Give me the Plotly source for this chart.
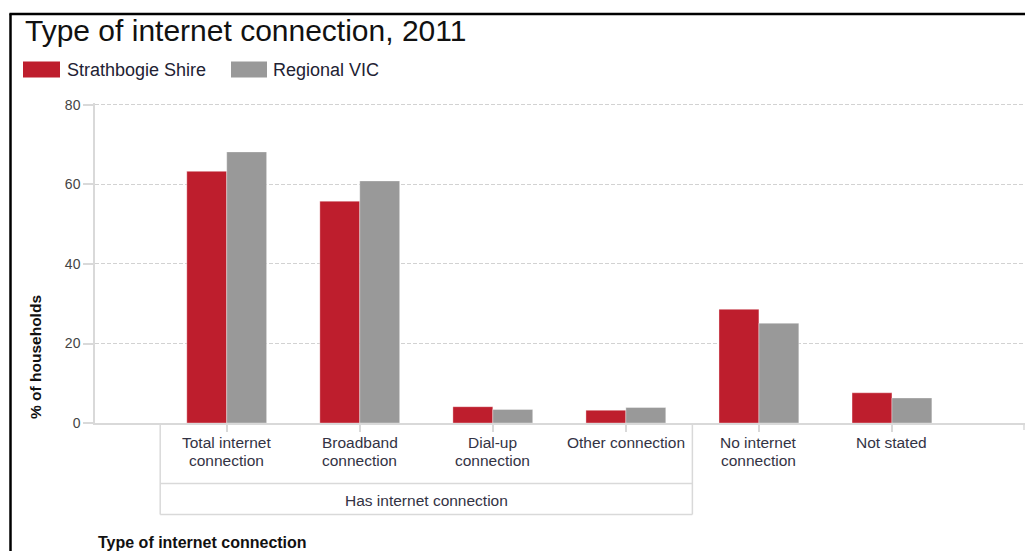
import plotly.graph_objects as go

# Data: % of households by type of internet connection, 2011
categories = [
    "Total internet<br>connection",
    "Broadband<br>connection",
    "Dial-up<br>connection",
    "Other connection",
    "No internet<br>connection",
    "Not stated",
]
strathbogie = [63.3, 55.8, 4.1, 3.2, 28.6, 7.6]
regional_vic = [68.2, 60.9, 3.4, 3.9, 25.1, 6.3]
series_names = ["Strathbogie Shire", "Regional VIC"]
series_colors = ["#BE1E2D", "#999999"]
group_label = "Has internet connection"
y_ticks = [0, 20, 40, 60, 80]
y_max = 80.5

# Canvas and plot-area geometry (pixels)
W, H = 1025, 551
L, R, T, B = 95, 1025, 103, 423
FONT = "Arial, Liberation Sans, sans-serif"


def px(x):
    return (x - L) / (R - L)


def py(y):
    return (B - y) / (B - T)


positions = list(range(1, len(categories) + 1))

fig = go.Figure()
for name, vals, col in zip(series_names, [strathbogie, regional_vic], series_colors):
    fig.add_trace(go.Bar(
        x=positions, y=vals, name=name,
        marker=dict(color=col, line=dict(color="rgba(255,255,255,0.35)", width=1)),
        showlegend=False,
    ))

grid_col = "#d2d2d2"
axis_col = "#d9d9d9"

fig.update_layout(
    width=W, height=H,
    margin=dict(l=L, r=W - R, t=T, b=H - B),
    paper_bgcolor="white", plot_bgcolor="white",
    barmode="group", bargap=0.4, bargroupgap=0,
    font=dict(family=FONT, color="#333333"),
    xaxis=dict(
        range=[0.01, 7], tickmode="array", tickvals=positions, showticklabels=False,
        showgrid=False, zeroline=False, showline=True, linecolor=axis_col, linewidth=1.5,
        ticks="outside", ticklen=7, tickcolor=axis_col, tickwidth=1.5,
    ),
    yaxis=dict(
        range=[0, y_max], tickmode="array", tickvals=y_ticks,
        showgrid=True, gridcolor=grid_col, griddash="4px,2px", gridwidth=1,
        zeroline=False, showline=True, linecolor=axis_col, linewidth=1.5,
        ticks="outside", ticklen=10, tickcolor=axis_col, tickwidth=1.5,
        tickfont=dict(size=14, color="#444444"),
    ),
)

shapes = []
# Outer frame (left and top edges)
shapes.append(dict(type="line", xref="paper", yref="paper", x0=px(10.5), x1=px(10.5),
                   y0=py(13.5), y1=py(H + 5), line=dict(color="black", width=2.5)))
shapes.append(dict(type="line", xref="paper", yref="paper", x0=px(9.5), x1=px(W + 5),
                   y0=py(14), y1=py(14), line=dict(color="black", width=2.5)))

# Grouping box under the connected categories
gx0, gx1 = 0.5, 4.5
box_line = dict(color=axis_col, width=1.5)
for gx in (gx0, gx1):
    shapes.append(dict(type="line", xref="x", yref="paper", x0=gx, x1=gx,
                       y0=py(B), y1=py(514.5), line=box_line))
for yy in (483.5, 514.5):
    shapes.append(dict(type="line", xref="x", yref="paper", x0=gx0, x1=gx1,
                       y0=py(yy), y1=py(yy), line=box_line))
# Right end tick of the category axis
shapes.append(dict(type="line", xref="paper", yref="paper", x0=px(1024), x1=px(1024),
                   y0=py(B), y1=py(430), line=box_line))

# Legend swatches
shapes.append(dict(type="rect", xref="paper", yref="paper", x0=px(23), x1=px(60),
                   y0=py(77.5), y1=py(61.5), fillcolor=series_colors[0], line=dict(width=0)))
shapes.append(dict(type="rect", xref="paper", yref="paper", x0=px(231), x1=px(267),
                   y0=py(77.5), y1=py(61.5), fillcolor=series_colors[1], line=dict(width=0)))

fig.update_layout(shapes=shapes)

annotations = [
    dict(text="Type of internet connection, 2011", xref="paper", yref="paper",
         x=px(23), y=py(31), xanchor="left", yanchor="middle", showarrow=False,
         font=dict(size=30, color="#111111", family=FONT)),
    dict(text=series_names[0], xref="paper", yref="paper", x=px(65), y=py(70),
         xanchor="left", yanchor="middle", showarrow=False,
         font=dict(size=18, color="#222233", family=FONT)),
    dict(text=series_names[1], xref="paper", yref="paper", x=px(271), y=py(70),
         xanchor="left", yanchor="middle", showarrow=False,
         font=dict(size=18, color="#222233", family=FONT)),
    dict(text=group_label, xref="x", yref="paper", x=(gx0 + gx1) / 2, y=py(500),
         xanchor="center", yanchor="middle", showarrow=False,
         font=dict(size=15.5, color="#333344", family=FONT)),
    dict(text="<b>% of households</b>", xref="paper", yref="paper", x=px(35), y=py(357),
         xanchor="center", yanchor="middle", textangle=-90, showarrow=False,
         font=dict(size=15.5, color="#111111", family=FONT)),
    dict(text="<b>Type of internet connection</b>", xref="paper", yref="paper",
         x=px(96), y=py(542), xanchor="left", yanchor="middle", showarrow=False,
         font=dict(size=16, color="#111111", family=FONT)),
]

# Category labels, one annotation per text line for tight line spacing
for pos, label in zip(positions, categories):
    for i, line in enumerate(label.split("<br>")):
        annotations.append(dict(
            text=line, xref="x", yref="paper", x=pos, y=py(442 + 18 * i),
            xanchor="center", yanchor="middle", showarrow=False,
            font=dict(size=15.5, color="#333344", family=FONT)))

fig.update_layout(annotations=annotations)

fig.write_html("out.html")
